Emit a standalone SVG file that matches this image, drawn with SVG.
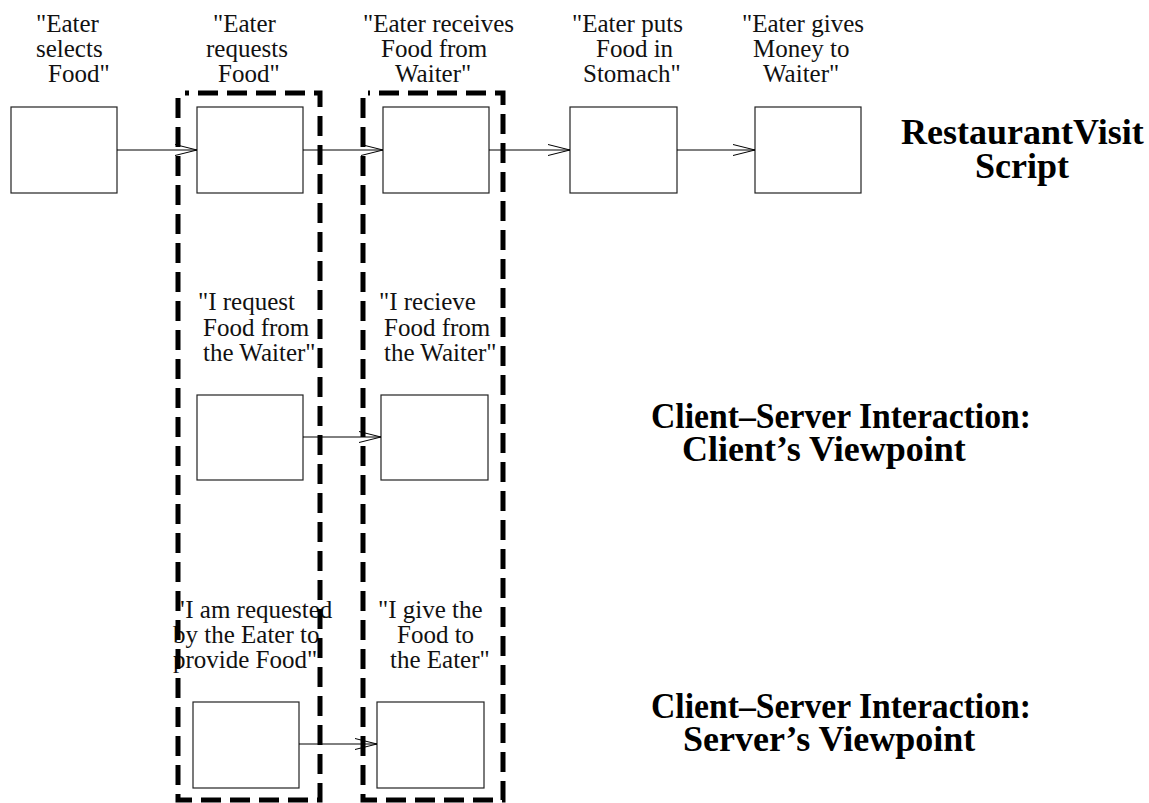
<svg xmlns="http://www.w3.org/2000/svg" width="1149" height="803" viewBox="0 0 1149 803">
  <defs>
    <marker id="open" viewBox="0 0 22 12" refX="22" refY="6" markerWidth="22" markerHeight="12" markerUnits="userSpaceOnUse" orient="auto">
      <path d="M0,0.5 L22,6 L0,11.5" fill="none" stroke="#000" stroke-width="1"/>
    </marker>
    <style>
      .box { fill: #fff; stroke: #222; stroke-width: 1.2; }
      .lbl { font-family: "Liberation Serif", "Times New Roman", serif; font-size: 25px; fill: #111; }
      .title { font-family: "Liberation Serif", "Times New Roman", serif; font-size: 36px; font-weight: bold; fill: #000; }
      .edge { stroke: #000; stroke-width: 1; fill: none; marker-end: url(#open); }
      .group { fill: none; stroke: #000; stroke-width: 5; stroke-dasharray: 20 9; }
    </style>
  </defs>
  <rect width="1149" height="803" fill="#fff"/>

  <!-- script steps -->
  <g id="selects">
    <rect class="box" x="11" y="107" width="106" height="86"/>
    <text class="lbl"><tspan x="36" y="32">"Eater</tspan><tspan x="36" y="57">selects</tspan><tspan x="48" y="82">Food"</tspan></text>
  </g>
  <g id="requests">
    <rect class="box" x="197" y="107" width="106" height="86"/>
    <text class="lbl"><tspan x="213" y="32">"Eater</tspan><tspan x="206" y="57">requests</tspan><tspan x="218" y="82">Food"</tspan></text>
  </g>
  <g id="receives">
    <rect class="box" x="383" y="107" width="106" height="86"/>
    <text class="lbl"><tspan x="363" y="32">"Eater receives</tspan><tspan x="381" y="57">Food from</tspan><tspan x="395" y="82">Waiter"</tspan></text>
  </g>
  <g id="eats">
    <rect class="box" x="570" y="107" width="107" height="86"/>
    <text class="lbl"><tspan x="572" y="32">"Eater puts</tspan><tspan x="596" y="57">Food in</tspan><tspan x="583" y="82">Stomach"</tspan></text>
  </g>
  <g id="pays">
    <rect class="box" x="755" y="107" width="106" height="86"/>
    <text class="lbl"><tspan x="742" y="32">"Eater gives</tspan><tspan x="753" y="57">Money to</tspan><tspan x="763" y="82">Waiter"</tspan></text>
  </g>

  <!-- client's viewpoint -->
  <g id="client-request">
    <rect class="box" x="197" y="395" width="106" height="85"/>
    <text class="lbl"><tspan x="198" y="310">"I request</tspan><tspan x="203" y="336">Food from</tspan><tspan x="203" y="361">the Waiter"</tspan></text>
  </g>
  <g id="client-receive">
    <rect class="box" x="381" y="395" width="107" height="85"/>
    <text class="lbl"><tspan x="379" y="310">"I recieve</tspan><tspan x="384" y="336">Food from</tspan><tspan x="384" y="361">the Waiter"</tspan></text>
  </g>

  <!-- server's viewpoint -->
  <g id="server-requested">
    <rect class="box" x="193" y="702" width="106" height="86"/>
    <text class="lbl"><tspan x="175" y="618">"I am requested</tspan><tspan x="173" y="643">by the Eater to</tspan><tspan x="173" y="668">provide Food"</tspan></text>
  </g>
  <g id="server-give">
    <rect class="box" x="377" y="702" width="107" height="86"/>
    <text class="lbl"><tspan x="378" y="618">"I give the</tspan><tspan x="397" y="643">Food to</tspan><tspan x="390" y="668">the Eater"</tspan></text>
  </g>

  <!-- row titles -->
  <g id="title-script">
    <text class="title"><tspan x="901" y="144">RestaurantVisit</tspan><tspan x="975" y="178">Script</tspan></text>
  </g>
  <g id="title-client">
    <text class="title"><tspan x="651" y="428" textLength="380" lengthAdjust="spacingAndGlyphs">Client–Server Interaction:</tspan><tspan x="682" y="461">Client’s Viewpoint</tspan></text>
  </g>
  <g id="title-server">
    <text class="title"><tspan x="651" y="718" textLength="380" lengthAdjust="spacingAndGlyphs">Client–Server Interaction:</tspan><tspan x="683" y="751">Server’s Viewpoint</tspan></text>
  </g>

  <!-- connectors -->
  <g id="connectors">
    <line class="edge" x1="117" y1="150" x2="197" y2="150"/>
    <line class="edge" x1="303" y1="150" x2="383" y2="150"/>
    <line class="edge" x1="489" y1="150" x2="570" y2="150"/>
    <line class="edge" x1="677" y1="150" x2="755" y2="150"/>
    <line class="edge" x1="303" y1="437" x2="381" y2="437"/>
    <line class="edge" x1="299" y1="744" x2="377" y2="744"/>
  </g>

  <!-- dashed groupings of corresponding steps -->
  <g id="group-request">
    <path class="group" d="M178,98 L178,800 L320,800 L320,93 L185,93"/>
  </g>
  <g id="group-receive">
    <path class="group" d="M363,98 L363,800 L503,800 L503,93 L368,93"/>
  </g>
</svg>
